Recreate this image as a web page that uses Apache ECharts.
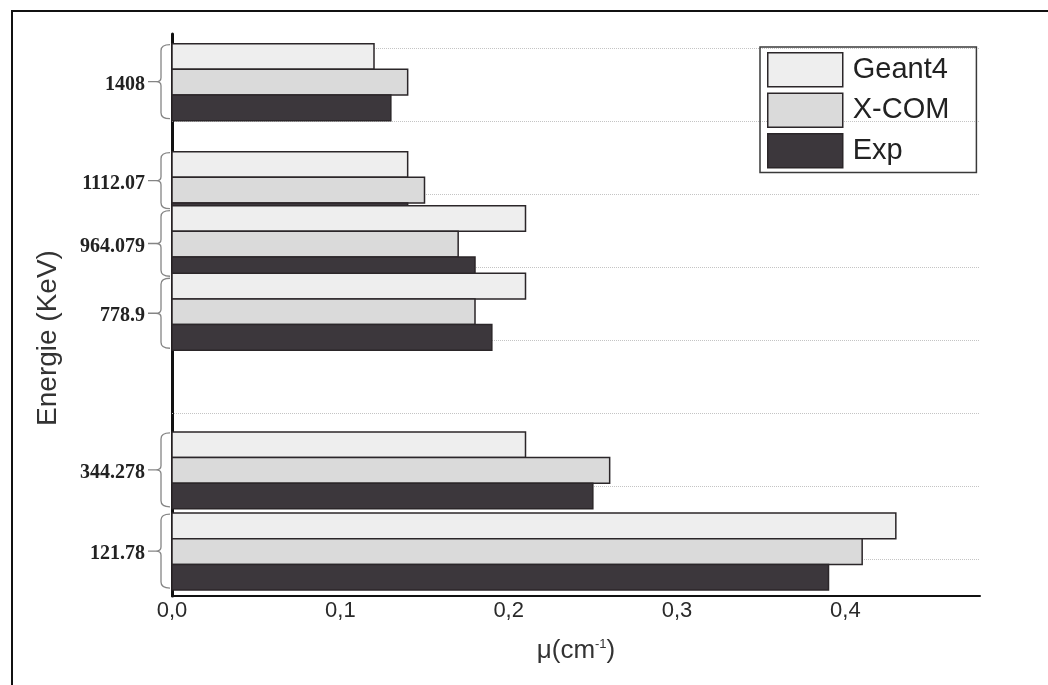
<!DOCTYPE html>
<html>
<head>
<meta charset="utf-8">
<script src="https://cdn.jsdelivr.net/npm/echarts@6/dist/echarts.min.js"></script>
<style>
  html, body { margin: 0; padding: 0; background: #fff; }
  #chart { width: 1048px; height: 685px; }
</style>
</head>
<body>
<div id="chart"></div>
<script>
// Gamma-ray energies (keV) and their printed tick labels
const energies = [121.78, 344.278, 778.9, 964.079, 1112.07, 1408];
const energyLabels = ['121.78', '344.278', '778.9', '964.079', '1112.07', '1408'];

// Attenuation coefficient mu (cm^-1) per energy
const geant4 = [0.43, 0.21, 0.21, 0.21, 0.14, 0.12];
const xcom = [0.41, 0.26, 0.18, 0.17, 0.15, 0.14];
const expValues = [0.39, 0.25, 0.19, 0.18, 0.14, 0.13];

// Axis ticks and dotted guide lines
const muTicks = [0, 0.1, 0.2, 0.3, 0.4];
const gridEnergies = [100, 300, 500, 700, 900, 1100, 1300, 1500];

// Thickness of one bar, expressed in keV along the energy axis
const BAR_KEV = 70.3;
const EDGE = '#2b2629';
const colors = { Geant4: '#eeeeee', 'X-COM': '#dadada', Exp: '#3c373c' };

function barSeries(name, values, slot) {
  return {
    name: name,
    type: 'custom',
    z: 3,
    data: energies.map((e, i) => [values[i], e]),
    encode: { x: 0, y: 1 },
    renderItem: function (params, api) {
      const mu = api.value(0);
      const e = api.value(1);
      const base = api.coord([0, e]);
      const end = api.coord([mu, e]);
      const band = api.size([0, BAR_KEV])[1];
      const top = base[1] - 1.5 * band + slot * band;
      return {
        type: 'rect',
        z2: Math.round(3000 - e),
        shape: { x: base[0], y: top, width: end[0] - base[0], height: band },
        style: { fill: colors[name], stroke: EDGE, lineWidth: 1.5 }
      };
    }
  };
}

// Vertical extent of the bracket beside group i, shortened where groups overlap
function bracketSpan(api, i, band) {
  const c = api.coord([0, energies[i]])[1];
  let top = c - 1.5 * band + 1;
  let bottom = c + 1.5 * band - 2;
  if (i > 0) {
    const lowerTop = api.coord([0, energies[i - 1]])[1] - 1.5 * band;
    if (lowerTop < bottom) bottom = lowerTop + 3;
  }
  if (i < energies.length - 1) {
    const upperBottom = api.coord([0, energies[i + 1]])[1] + 1.5 * band;
    if (upperBottom > top) top = c - 1.5 * band + 5;
  }
  return [top, bottom];
}

// Curly bracket + energy label to the left of each bar group
const bracketSeries = {
  name: 'brackets',
  type: 'custom',
  z: 2,
  data: energies.map(e => [0, e]),
  encode: { x: 0, y: 1 },
  renderItem: function (params, api) {
    const i = params.dataIndex;
    const A = api.coord([0, api.value(1)])[0];
    const band = api.size([0, BAR_KEV])[1];
    const span = bracketSpan(api, i, band);
    const top = span[0], bottom = span[1];
    const mid = (top + bottom) / 2;
    const vx = A - 11;
    const d = 'M' + (A - 2) + ',' + top +
      ' Q' + vx + ',' + top + ' ' + vx + ',' + (top + 6) +
      ' L' + vx + ',' + (mid - 4) +
      ' Q' + vx + ',' + mid + ' ' + (A - 16) + ',' + mid +
      ' Q' + vx + ',' + mid + ' ' + vx + ',' + (mid + 4) +
      ' L' + vx + ',' + (bottom - 6) +
      ' Q' + vx + ',' + bottom + ' ' + (A - 2) + ',' + bottom +
      ' M' + (A - 24) + ',' + mid + ' L' + (A - 16) + ',' + mid;
    return {
      type: 'group',
      children: [
        {
          type: 'path',
          shape: { pathData: d },
          style: { fill: null, stroke: '#858585', lineWidth: 1.3 }
        },
        {
          type: 'text',
          x: A - 27,
          y: mid + 3,
          style: {
            text: energyLabels[i],
            align: 'right',
            verticalAlign: 'middle',
            fontFamily: '"Liberation Serif", "DejaVu Serif", serif',
            fontWeight: 'bold',
            fontSize: 20,
            fill: '#222'
          }
        }
      ]
    };
  }
};

const guideSeries = {
  name: 'guides',
  type: 'line',
  z: 1,
  data: [],
  markLine: {
    z: 1,
    silent: true,
    symbol: 'none',
    animation: false,
    label: { show: false },
    lineStyle: { type: 'dotted', color: '#c4c4c4', width: 1 },
    data: gridEnergies.map(e => ({ yAxis: e }))
  }
};

const chart = echarts.init(document.getElementById('chart'), null, { renderer: 'canvas' });
chart.setOption({
  animation: false,
  backgroundColor: '#ffffff',
  textStyle: { fontFamily: '"Liberation Sans", Arial, sans-serif' },
  grid: { left: 172, right: 68, top: 34, bottom: 89, containLabel: false },
  xAxis: {
    type: 'value',
    min: muTicks[0],
    max: 0.48,
    interval: 0.1,
    name: 'μ(cm{sup|-1})',
    nameLocation: 'middle',
    nameGap: 42,
    nameTextStyle: {
      fontSize: 26,
      color: '#333',
      rich: {
        sup: { fontSize: 13, color: '#333', verticalAlign: 'top', padding: [0, 0, 10, 0] }
      }
    },
    axisLine: { show: true, lineStyle: { color: '#111', width: 2 } },
    axisTick: { show: false },
    splitLine: { show: false },
    axisLabel: {
      showMaxLabel: false,
      margin: 4,
      fontSize: 22,
      color: '#2a2a2a',
      formatter: v => muTicks.includes(Math.round(v * 10) / 10) ? v.toFixed(1).replace('.', ',') : ''
    }
  },
  yAxis: {
    type: 'value',
    min: 0,
    max: 1540,
    axisLine: { show: true, lineStyle: { color: '#111', width: 3 } },
    axisTick: { show: false },
    axisLabel: { show: false },
    splitLine: { show: false }
  },
  legend: {
    orient: 'vertical',
    left: 760,
    top: 47,
    icon: 'rect',
    itemWidth: 75,
    itemHeight: 34,
    itemGap: 5,
    padding: [5, 27, 4, 7],
    borderColor: '#3a3a3a',
    borderWidth: 1.5,
    selectedMode: false,
    textStyle: { fontSize: 29, color: '#222', padding: [0, 0, 0, 5] },
    data: ['Geant4', 'X-COM', 'Exp'].map(n => ({
      name: n,
      itemStyle: { color: colors[n], borderColor: EDGE, borderWidth: 1.5 }
    }))
  },
  graphic: [
    {
      type: 'polyline',
      silent: true,
      shape: { points: [[12, 690], [12, 11], [1060, 11]] },
      style: { stroke: '#111', lineWidth: 2, fill: null }
    },
    {
      type: 'text',
      x: 48,
      y: 338,
      rotation: Math.PI / 2,
      silent: true,
      style: {
        text: 'Energie (KeV)',
        align: 'center',
        verticalAlign: 'middle',
        fontFamily: '"Liberation Sans", Arial, sans-serif',
        fontSize: 28,
        fill: '#333'
      }
    }
  ],
  series: [
    guideSeries,
    bracketSeries,
    barSeries('Geant4', geant4, 0),
    barSeries('X-COM', xcom, 1),
    barSeries('Exp', expValues, 2)
  ]
});
</script>
</body>
</html>
